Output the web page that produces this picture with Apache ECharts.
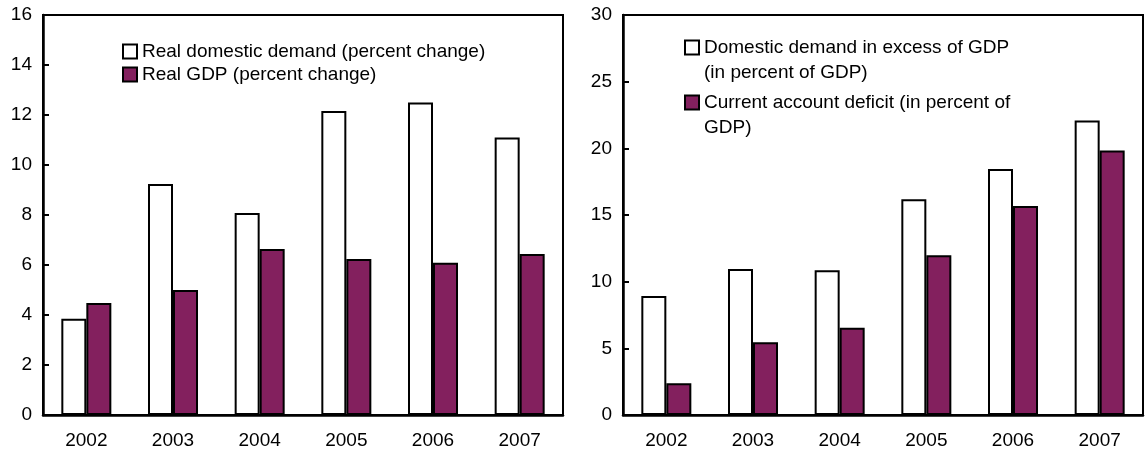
<!DOCTYPE html>
<html>
<head>
<meta charset="utf-8">
<script src="https://cdn.jsdelivr.net/npm/echarts@6/dist/echarts.min.js"></script>
<style>
  html, body { margin: 0; padding: 0; background: #fff; }
  #chart { width: 1145px; height: 453px; }
</style>
</head>
<body>
<div id="chart"></div>
<script>
var years = ['2002', '2003', '2004', '2005', '2006', '2007'];

// left panel
var realDomesticDemand = [3.85, 9.24, 8.08, 12.16, 12.5, 11.1];
var realGdp = [4.48, 5.0, 6.64, 6.24, 6.09, 6.44];

// right panel
var demandExcessGdp = [8.93, 10.95, 10.85, 16.18, 18.45, 22.08];
var currentAccountDeficit = [2.38, 5.45, 6.55, 11.98, 15.68, 19.83];

var purple = '#83205E';
var font = '"Liberation Sans", Arial, sans-serif';

var names = {
    rdd: 'Real domestic demand (percent change)',
    gdp: 'Real GDP (percent change)',
    exc: 'Domestic demand in excess of GDP (in percent of GDP)',
    cad: 'Current account deficit (in percent of GDP)'
};
// how the right legend wraps; the empty first line keeps the box level with line one
var wrapped = {};
wrapped[names.exc] = '\nDomestic demand in excess of GDP\n(in percent of GDP)';
wrapped[names.cad] = '\nCurrent account deficit (in percent of\nGDP)';

function xAxis(idx) {
    return {
        type: 'category', gridIndex: idx, data: years,
        axisLine: { lineStyle: { color: '#000', width: 2.5 } },
        axisTick: { inside: true, length: 6, lineStyle: { color: '#000', width: 2 } },
        axisLabel: { color: '#000', fontSize: 19, fontFamily: font, margin: 16 }
    };
}
function yAxis(idx, max, step) {
    return {
        type: 'value', gridIndex: idx, min: 0, max: max, interval: step,
        splitLine: { show: false },
        axisLine: { show: true, lineStyle: { color: '#000', width: 2.5 } },
        axisTick: { show: true, inside: true, length: 6, lineStyle: { color: '#000', width: 2 } },
        axisLabel: { color: '#000', fontSize: 19, fontFamily: font, margin: 11 }
    };
}
function bars(name, data, idx, color) {
    return {
        name: name, type: 'bar', xAxisIndex: idx, yAxisIndex: idx, data: data,
        barWidth: 25, barGap: '0%',
        itemStyle: { color: color, borderColor: '#000', borderWidth: 2 },
        emphasis: { disabled: true }
    };
}

var chart = echarts.init(document.getElementById('chart'));
chart.setOption({
    animation: false,
    textStyle: { fontFamily: font },
    grid: [
        { left: 43, top: 15, width: 520, height: 400, show: true, borderColor: '#000', borderWidth: 2 },
        { left: 623, top: 15, width: 520, height: 400, show: true, borderColor: '#000', borderWidth: 2 }
    ],
    xAxis: [xAxis(0), xAxis(1)],
    yAxis: [yAxis(0, 16, 2), yAxis(1, 30, 5)],
    legend: [
        {
            data: [names.rdd, names.gdp], orient: 'vertical', left: 117, top: 35,
            itemWidth: 14, itemHeight: 14, itemGap: 0, icon: 'rect',
            itemStyle: { borderColor: '#000', borderWidth: 2 },
            textStyle: { color: '#000', fontSize: 19, fontFamily: font, lineHeight: 23 }
        },
        {
            data: [names.exc, names.cad], orient: 'vertical', left: 679, top: 5,
            itemWidth: 14, itemHeight: 14, itemGap: -20, icon: 'rect',
            itemStyle: { borderColor: '#000', borderWidth: 2 },
            formatter: function (n) { return wrapped[n]; },
            textStyle: { color: '#000', fontSize: 19, fontFamily: font, lineHeight: 25 }
        }
    ],
    series: [
        bars(names.rdd, realDomesticDemand, 0, '#fff'),
        bars(names.gdp, realGdp, 0, purple),
        bars(names.exc, demandExcessGdp, 1, '#fff'),
        bars(names.cad, currentAccountDeficit, 1, purple)
    ]
});
</script>
</body>
</html>
